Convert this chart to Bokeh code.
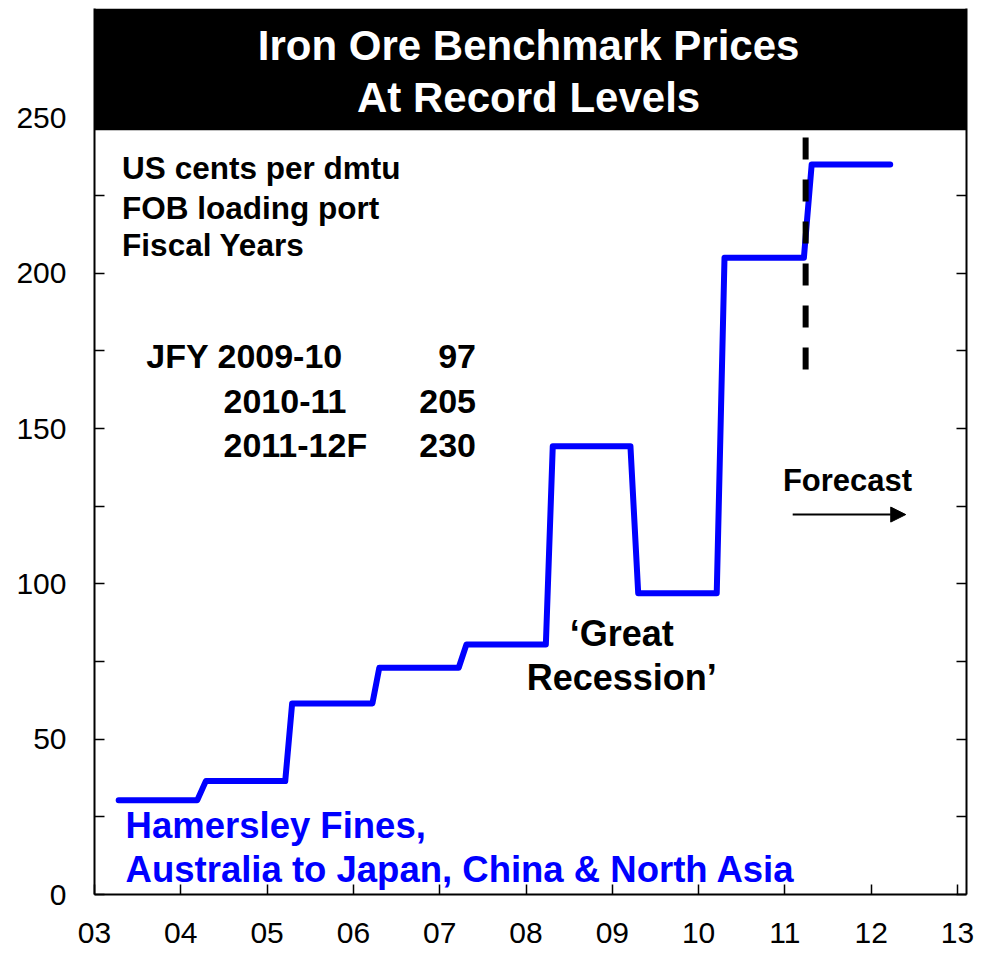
from bokeh.plotting import figure
from bokeh.models import (FixedTicker, LinearAxis, Label, BoxAnnotation, Arrow,
                          NormalHead)
from bokeh.embed import file_html
from bokeh.resources import INLINE

# ---------------- data ----------------
x_ticks = [3, 4, 5, 6, 7, 8, 9, 10, 11, 12, 13]
x_tick_labels = ["03", "04", "05", "06", "07", "08", "09", "10", "11", "12", "13"]
y_ticks = [0, 50, 100, 150, 200, 250]
y_minor_ticks = [25, 75, 125, 175, 225]
y_all_ticks = [0, 25, 50, 75, 100, 125, 150, 175, 200, 225, 250]

# Hamersley fines benchmark price (US cents per dmtu), one level per fiscal year
price = [30.3, 36.5, 61.5, 73.0, 80.5, 144.3, 97.0, 205.0, 235.0]
level_start = [3.28, 4.29, 5.29, 6.30, 7.31, 8.31, 9.30, 10.30, 11.31]
level_end = [4.19, 5.21, 6.22, 7.22, 8.23, 9.21, 10.21, 11.22, 12.22]

forecast_x = 11.24
divider_y = [169, 245]

title_lines = ["Iron Ore Benchmark Prices", "At Record Levels"]
unit_lines = ["US cents per dmtu", "FOB loading port", "Fiscal Years"]
jfy_labels = ["JFY 2009-10", "2010-11", "2011-12F"]
jfy_values = ["97", "205", "230"]
recession_lines = ["\u2018Great", "Recession\u2019"]
series_lines = ["Hamersley Fines,", "Australia to Japan, China & North Asia"]

# ---------------- figure ----------------
FONT = "Liberation Sans"
BLUE = "#0000FF"

p = figure(width=975, height=954, x_range=(3, 13.104), y_range=(0, 285.2),
           output_backend="svg", toolbar_location=None,
           min_border_left=94, min_border_right=9, min_border_top=8,
           min_border_bottom=60, outline_line_color=None,
           background_fill_color="white", border_fill_color="white")
p.grid.visible = False

# y axis (left)
ya = p.yaxis[0]
ya.ticker = FixedTicker(ticks=y_ticks, minor_ticks=y_minor_ticks)
ya.axis_line_width = 2
ya.major_tick_in = 10
ya.major_tick_out = 0
ya.minor_tick_in = 10
ya.minor_tick_out = 0
ya.major_tick_line_width = 1.5
ya.minor_tick_line_width = 1.5
ya.major_label_text_font = FONT
ya.major_label_text_font_size = "30px"
ya.major_label_text_color = "black"
ya.major_label_standoff = 28

# right axis, ticks only (all ticks as minor ticks -> no labels)
ra = LinearAxis(ticker=FixedTicker(ticks=[], minor_ticks=y_all_ticks))
ra.axis_line_width = 2
ra.major_tick_in = 10
ra.major_tick_out = 0
ra.minor_tick_in = 10
ra.minor_tick_out = 0
ra.minor_tick_line_width = 1.5
ra.major_label_standoff = 0
p.add_layout(ra, "right")

# x axis
xa = p.xaxis[0]
xa.ticker = FixedTicker(ticks=x_ticks, minor_ticks=[])
xa.major_label_overrides = {t: lab for t, lab in zip(x_ticks, x_tick_labels)}
xa.axis_line_width = 2
xa.major_tick_in = 10
xa.major_tick_out = 0
xa.major_tick_line_width = 1.5
xa.major_label_text_font = FONT
xa.major_label_text_font_size = "30px"
xa.major_label_text_color = "black"
xa.major_label_standoff = 28

# ---------------- series ----------------
line_x, line_y = [], []
for s, e, v in zip(level_start, level_end, price):
    line_x += [s, e]
    line_y += [v, v]
p.line(line_x, line_y, line_color=BLUE, line_width=6,
       line_join="round", line_cap="round")

# forecast divider
p.segment(x0=[forecast_x], y0=[divider_y[0]], x1=[forecast_x], y1=[divider_y[1]],
          line_color="black", line_width=6, line_dash="22 20")

# title box
p.add_layout(BoxAnnotation(bottom=246, fill_color="black", fill_alpha=1.0,
                           line_color=None))
for txt, y in zip(title_lines, [273.3, 256.6]):
    p.add_layout(Label(x=8.03, y=y, text=txt, text_align="center",
                       text_baseline="middle", text_font=FONT,
                       text_font_style="bold", text_font_size="42px",
                       text_color="white"))

# unit notes
for txt, y in zip(unit_lines, [233.7, 220.9, 209.0]):
    p.add_layout(Label(x=3.32, y=y, text=txt, text_align="left",
                       text_baseline="middle", text_font=FONT,
                       text_font_style="bold", text_font_size="31.5px",
                       text_color="black"))

# JFY table
for txt, x, y in zip(jfy_labels, [3.60, 4.495, 4.495], [173.2, 158.7, 144.6]):
    p.add_layout(Label(x=x, y=y, text=txt, text_align="left",
                       text_baseline="middle", text_font=FONT,
                       text_font_style="bold", text_font_size="34px",
                       text_color="black"))
for txt, y in zip(jfy_values, [173.2, 158.7, 144.6]):
    p.add_layout(Label(x=7.42, y=y, text=txt, text_align="right",
                       text_baseline="middle", text_font=FONT,
                       text_font_style="bold", text_font_size="34px",
                       text_color="black"))

# Great Recession
for txt, y in zip(recession_lines, [84.0, 69.9]):
    p.add_layout(Label(x=9.11, y=y, text=txt, text_align="center",
                       text_baseline="middle", text_font=FONT,
                       text_font_style="bold", text_font_size="36px",
                       text_color="black"))

# Forecast
p.add_layout(Label(x=11.725, y=133.3, text="Forecast", text_align="center",
                   text_baseline="middle", text_font=FONT,
                   text_font_style="bold", text_font_size="31px",
                   text_color="black"))
p.add_layout(Arrow(end=NormalHead(size=15, fill_color="black", line_color="black"),
                   x_start=11.09, y_start=122.3, x_end=12.40, y_end=122.3,
                   line_color="black", line_width=2))

# series label
for txt, y in zip(series_lines, [22.3, 8.1]):
    p.add_layout(Label(x=3.36, y=y, text=txt, text_align="left",
                       text_baseline="middle", text_font=FONT,
                       text_font_style="bold", text_font_size="36.5px",
                       text_color=BLUE))

open("out.html", "w").write(file_html(p, INLINE))
